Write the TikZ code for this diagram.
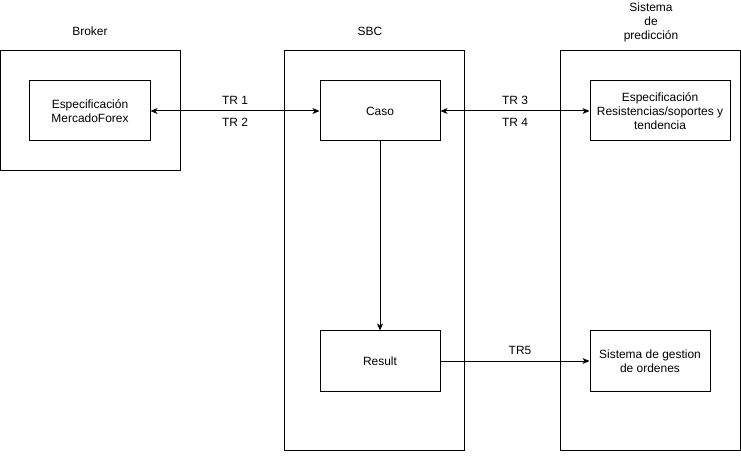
\documentclass[tikz,border=0pt]{standalone}
\usepackage{fontspec}
\setmainfont{Liberation Sans}
\usetikzlibrary{arrows.meta}
\tikzset{
  caja/.style={draw, line width=1bp, minimum width=#1, minimum height=60bp, inner sep=0pt, align=center},
  marco/.style={draw, line width=1bp},
  flecha/.style={line width=1bp, -{Stealth[length=7bp,width=6bp,inset=2bp]}},
  doble/.style={line width=1bp, {Stealth[length=7bp,width=6bp,inset=2bp]}-{Stealth[length=7bp,width=6bp,inset=2bp]}},
  txt/.style={font=\fontsize{12}{14}\selectfont, align=center, inner sep=0pt}
}
\begin{document}
\begin{tikzpicture}[x=1bp,y=-1bp,font=\fontsize{12}{14}\selectfont]%esquema SBC
\useasboundingbox (0,0) rectangle (741,460);
% marcos
\draw[marco] (0.5,51) rectangle (180,171);
\draw[marco] (284,51) rectangle (464,450);
\draw[marco] (560,51) rectangle (740,450);
\node[txt] (broker) at (90,31) {Broker};
\node[txt] (sbc) at (370,31) {SBC};
\node[txt] (pred) at (651,22) {Sistema\\de\\predicción};
% cajas
\node[caja=120bp] (forex) at (90,111) {Especificación\\MercadoForex};
\node[caja=120bp] (caso) at (380,111) {Caso};
\node[caja=120bp] (result) at (380,361) {Result};
\node[caja=140bp] (resis) at (660,111) {Especificación\\Resistencias/soportes y\\tendencia};
\node[caja=120bp] (gestion) at (650,361) {Sistema de gestion\\de ordenes};
% conexiones
\draw[doble] (forex) -- node[above=3bp]{TR 1} node[below=3bp]{TR 2} (caso);
\draw[doble] (caso) -- node[above=3bp]{TR 3} node[below=3bp]{TR 4} (resis);
\draw[flecha] (caso) -- (result);
\draw[flecha] (result) -- node[above=3bp, xshift=5bp]{TR5} (gestion);
\end{tikzpicture}
\end{document}
